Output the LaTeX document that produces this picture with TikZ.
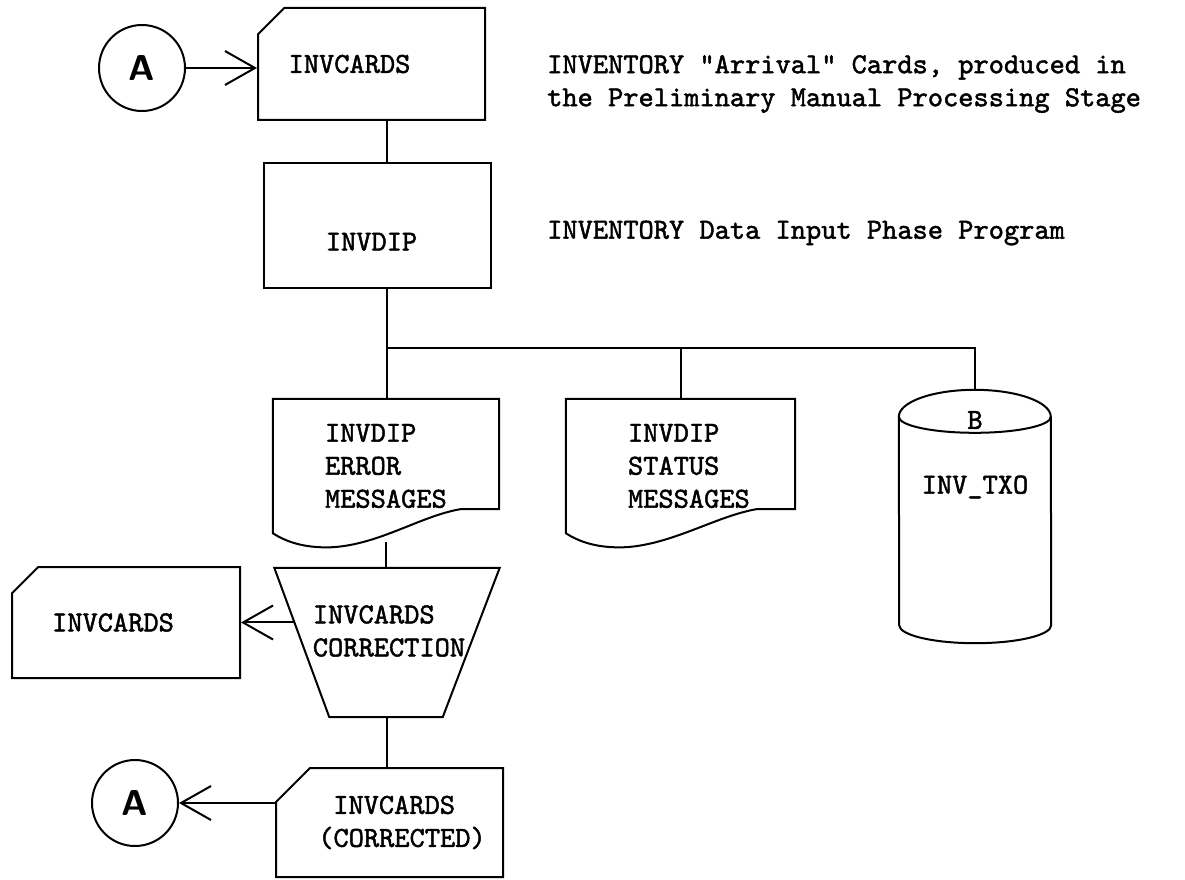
\documentclass[tikz,border=0pt]{standalone}
\usepackage{fontspec}
\usepackage{tikz}
\usetikzlibrary{arrows.meta, positioning, shapes.misc, calc}
\newfontfamily\typfont{lmmono10-regular.otf}[FakeBold=1.6]
\newcommand{\typ}{\fontsize{29}{33}\selectfont\typfont}
% document symbol drawn round a plain node
\newcommand{\docpath}[1]{%
  \draw[outline] (#1.south west) -- (#1.north west) -- (#1.north east)
    -- ([yshift=24pt]#1.south east) -- ([xshift=-39pt,yshift=24pt]#1.south east)
    .. controls ([xshift=-79pt,yshift=17pt]#1.south east) and ([xshift=107pt,yshift=-11pt]#1.south west) .. ([xshift=60pt,yshift=-14pt]#1.south west)
    .. controls ([xshift=37pt,yshift=-15pt]#1.south west) and ([xshift=17pt,yshift=-11pt]#1.south west) .. (#1.south west) -- cycle;}

\begin{document}
\begin{tikzpicture}[
    x=1pt, y=1pt,
    outline/.style={draw, line width=2pt},
    conn/.style={circle, outline, minimum size=86pt, inner sep=0pt, font=\fontsize{36}{36}\selectfont\sffamily\bfseries},
    card/.style={chamfered rectangle, chamfered rectangle corners=north west, chamfered rectangle xsep=17pt, chamfered rectangle ysep=17pt, outline, font=\typ, inner sep=0pt},
    prog/.style={rectangle, outline, font=\typ, inner sep=0pt},
    doc/.style={rectangle, font=\typ, align=left, inner ysep=0pt, minimum height=134pt},
    drum/.style={rectangle, inner sep=0pt, minimum width=152pt, minimum height=253pt},
    manual/.style={rectangle, inner sep=0pt, minimum width=225pt, minimum height=149pt},
    lbl/.style={font=\typ, inner sep=0pt, align=left},
    flow/.style={-{Straight Barb[length=30pt, width=34pt]}, line width=2pt},
    link/.style={line width=2pt},
  ]
  \useasboundingbox (0,0) rectangle (1185,-880);
  % Input cards
  \node[conn] (atop) at (142,-68) {A};
  \node[card, minimum width=227pt, minimum height=112pt] (cardin) at (371.5,-64) {INVCARDS\hspace*{44pt}};
  \node[lbl, anchor=west] (descin) at (547,-84) {INVENTORY "Arrival" Cards, produced in\\the Preliminary Manual Processing Stage};
  % Program
  \node[prog, minimum width=227pt, minimum height=125pt, text height=50pt, text depth=0pt] (dip) at (377.5,-225.5) {INVDIP\hspace*{12pt}};
  \node[lbl, anchor=west] (descdip) at (547,-233) {INVENTORY Data Input Phase Program};
  \coordinate (bus) at (387,-348);
  % Outputs
  \node[doc, inner xsep=52pt, text width=122pt] (err) at (386,-466) {INVDIP\\ERROR\\MESSAGES};
  \node[doc, inner xsep=62pt, text width=105pt] (stat) at (680.5,-466) {INVDIP\\STATUS\\MESSAGES};
  \docpath{err}
  \docpath{stat}
  \node[drum] (txo) at (975,-516.5) {};
  \draw[outline] ([yshift=-27pt]txo.north west) arc[start angle=180, end angle=0, x radius=76pt, y radius=27pt]
    -- ([yshift=18pt]txo.south east) arc[start angle=0, end angle=-180, x radius=76pt, y radius=18pt] -- cycle;
  \draw[outline] ([yshift=-27pt]txo.north west) arc[start angle=180, end angle=360, x radius=76pt, y radius=16pt];
  \node[lbl] (txob) at (975,-420) {B};
  \node[lbl] (txoname) at (975,-487) {INV\_TXO};
  % Correction
  \node[manual] (trap) at (387,-642.5) {};
  \draw[outline] (trap.north west) -- (trap.north east) -- ([xshift=-57pt]trap.south east)
    -- ([xshift=55pt]trap.south west) -- cycle;
  \coordinate (trapleft) at ($(trap.north west)!0.366!([xshift=55pt]trap.south west)$);
  \node[lbl] (trapname) at (389,-631) {INVCARDS\\CORRECTION};
  \node[card, minimum width=228pt, minimum height=111pt] (leftcard) at (126,-622.5) {INVCARDS\hspace*{26pt}};
  \node[card, minimum width=227pt, minimum height=109pt, align=left] (cardout) at (389.5,-822.5) {\hspace*{40pt}INVCARDS\\\hspace*{25pt}(CORRECTED)};
  \node[conn] (abot) at (135,-803) {A};
  % Connections
  \draw[flow] (atop.east) -- (atop.east -| cardin.west);
  \draw[link] (cardin.south -| bus) -- (dip.north -| bus);
  \draw[link] (dip.south -| bus) -- (err.north -| bus);
  \draw[link] (bus) -| (txo.north);
  \draw[link] (bus -| stat.north) -- (stat.north);
  \draw[link] ([yshift=-9pt]err.south) -- (trap.north -| err.south);
  \draw[flow] (trapleft) -- (trapleft -| leftcard.east);
  \draw[link] (trap.south) -- (cardout.north -| trap.south);
  \draw[flow] (abot.east -| cardout.west) -- (abot.east);
\end{tikzpicture}
\end{document}
